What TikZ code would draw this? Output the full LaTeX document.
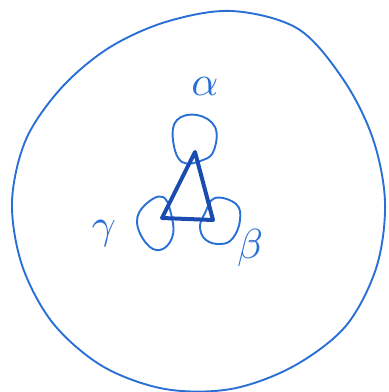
\documentclass[tikz,border=0pt]{standalone}
\usetikzlibrary{calc}
\definecolor{penblue}{HTML}{2A6FD6}
\definecolor{darkpen}{HTML}{1A4BB0}
\begin{document}
\begin{tikzpicture}[x=1pt,y=-1pt,
  pen/.style={draw=penblue,line width=1.9pt,line join=round,line cap=round},
  tri/.style={draw=darkpen,line width=4pt,line join=round,line cap=round},
  lbl/.style={text=penblue,scale=4.2}]
\useasboundingbox (0,0) rectangle (389,392);
% outer circle
\draw[pen] plot[smooth cycle,tension=0.55] coordinates {(385,202) (372.8,138.4) (343.5,79.8) (298,28.8) (231.7,11) (166.2,21.8) (109,47.8) (61.6,87.6) (26,139.4) (12,202) (22.3,266) (53.2,323.5) (103,366.5) (165,389) (231,389) (293,366.5) (345.8,326) (376.5,267)};
% vertices
\coordinate (A) at (195,152);
\coordinate (B) at (162,218);
\coordinate (C) at (213,220);
% loops
\draw[pen] plot[smooth cycle,tension=0.7] coordinates {(182,162) (173,140) (177,120) (197,115) (215,127) (214,150) (203,160)};
\draw[pen] plot[smooth cycle,tension=0.7] coordinates {(163,197) (145,205) (137,222) (146,243) (160,250) (172,238) (172,218)};
\draw[pen] plot[smooth cycle,tension=0.7] coordinates {(215,198) (236,204) (240,220) (233,238) (221,244) (206,240) (200,227) (205,213)};
% triangle
\draw[tri] (A) -- (B) -- (C) -- cycle;
% labels
\node[lbl] (alpha) at (205,86) {$\alpha$};
\node[lbl] (gamma) at (104,234) {$\gamma$};
\node[lbl] (beta) at (250,248) {$\beta$};
\end{tikzpicture}
\end{document}
